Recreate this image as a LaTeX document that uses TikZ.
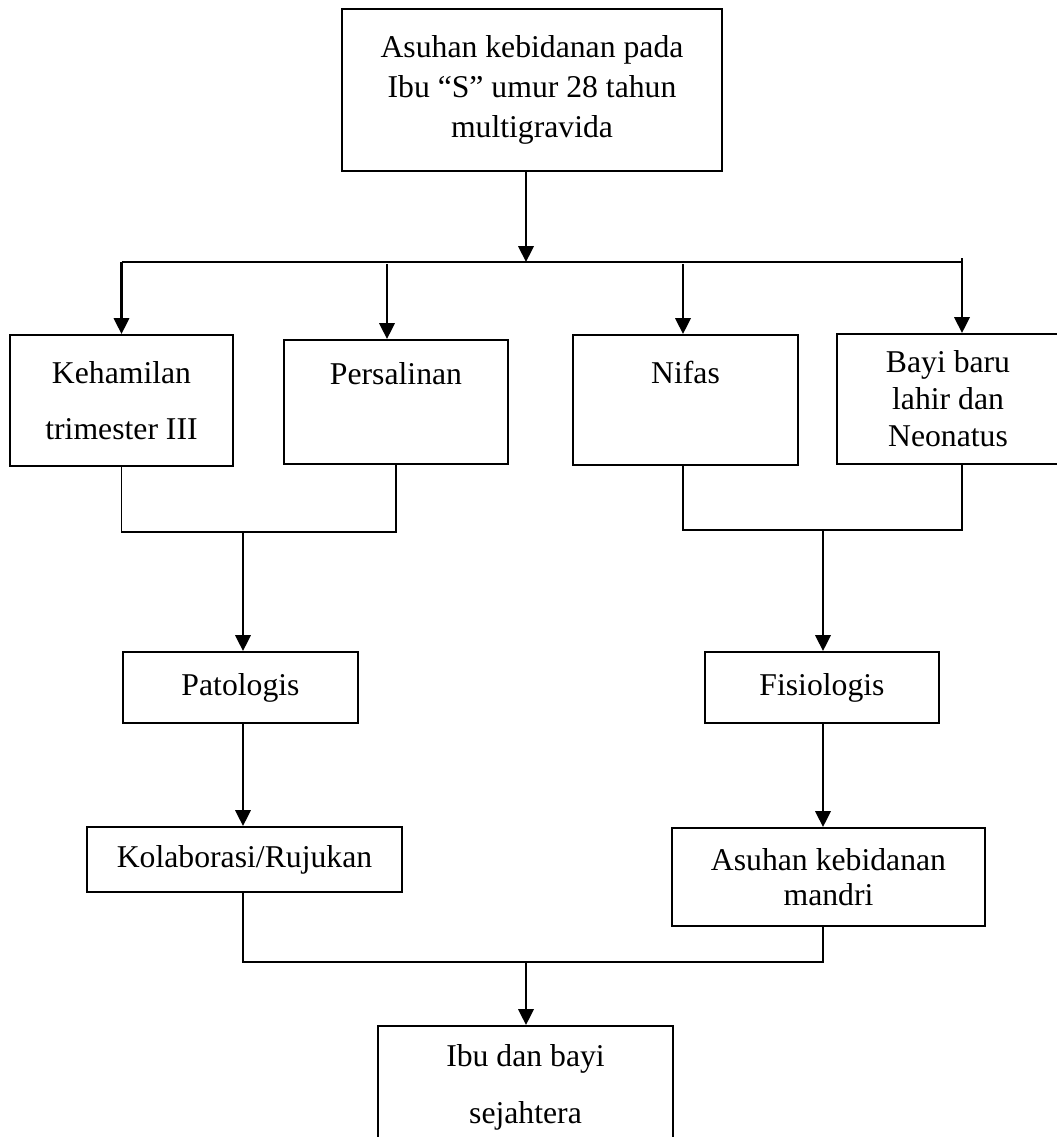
\documentclass[tikz,border=0pt]{standalone}
\usepackage{fontspec}
\setmainfont{Liberation Serif}
\usetikzlibrary{arrows.meta}
\newcommand\pxu{0.3785pt}

\begin{document}
\begin{tikzpicture}[
  x=\pxu, y=-\pxu,
  font=\fontsize{12}{14}\selectfont,
  >={Triangle[length=6pt, width=5.8pt]},
  box/.style={draw, line width=0.75pt, align=center, inner sep=0pt},
  wh/.style 2 args={minimum width=#1*\pxu, minimum height=#2*\pxu},
  lead/.style={font=\fontsize{12}{#1}\selectfont},
  wire/.style={line width=0.75pt},
  flow/.style={line width=0.9pt, ->}
]
\clip (0,0) rectangle (1057,1137);
\node[box, wh={380}{162}, lead=15.1pt] (asuhan) at (532,90) {Asuhan kebidanan pada\\Ibu “S” umur 28 tahun\\multigravida};
\node[box, wh={223}{131}, lead=21.2pt] (hamil) at (121.5,400.5) {Kehamilan\\trimester III};
\node[box, wh={224}{124}, lead=21.2pt] (salin) at (396,402) {Persalinan\\\mbox{}};
\node[box, wh={225}{130}, lead=21.2pt] (nifas) at (685.5,400) {Nifas\\\mbox{}};
\node[box, wh={222}{130}, lead=14pt] (bayi) at (948,399) {Bayi baru\\lahir dan\\Neonatus};
\node[box, wh={235}{71}] (pato) at (240.5,687.5) {Patologis};
\node[box, wh={234}{71}] (fisio) at (822,687.5) {Fisiologis};
\node[box, wh={315}{65}] (kolab) at (244.5,859.5) {Kolaborasi/Rujukan};
\node[box, wh={313}{98}, lead=13pt] (mandiri) at (828.5,877) {Asuhan kebidanan\\mandri};
\node[box, wh={295}{122}, lead=21.6pt] (ibu) at (525.5,1087) {Ibu dan bayi\\sejahtera};
% titik cabang
\coordinate (bus) at (526,262);
\coordinate (busR) at (961,262);
\coordinate (c2) at (387,264);
\coordinate (c3) at (683,264);
\coordinate (c4) at (962,258);
\coordinate (jl) at (243,532);
\coordinate (jr) at (823,530);
\coordinate (jb) at (526,962);
% atas
\draw[flow] (asuhan.south -| bus) -- (bus);
\draw[wire] (hamil.north |- bus) -- (busR);
\draw[flow] (hamil.north |- bus) -- (hamil.north);
\draw[flow] (c2) -- (c2 |- salin.north);
\draw[flow] (c3) -- (c3 |- nifas.north);
\draw[flow] (c4) -- (c4 |- bayi.north);
% tengah
\draw[wire] (hamil.south) -- (hamil.south |- jl) -- (salin.south |- jl) -- (salin.south);
\draw[wire] (c3 |- nifas.south) -- (c3 |- jr) -- (c4 |- jr) -- (c4 |- bayi.south);
\draw[flow] (jl) -- (jl |- pato.north);
\draw[flow] (jr) -- (jr |- fisio.north);
\draw[flow] (pato.south -| jl) -- (kolab.north -| jl);
\draw[flow] (fisio.south -| jr) -- (mandiri.north -| jr);
% bawah
\draw[wire] (kolab.south -| jl) -- (jl |- jb) -- (jr |- jb) -- (mandiri.south -| jr);
\draw[flow] (jb) -- (jb |- ibu.north);
\end{tikzpicture}
\end{document}
